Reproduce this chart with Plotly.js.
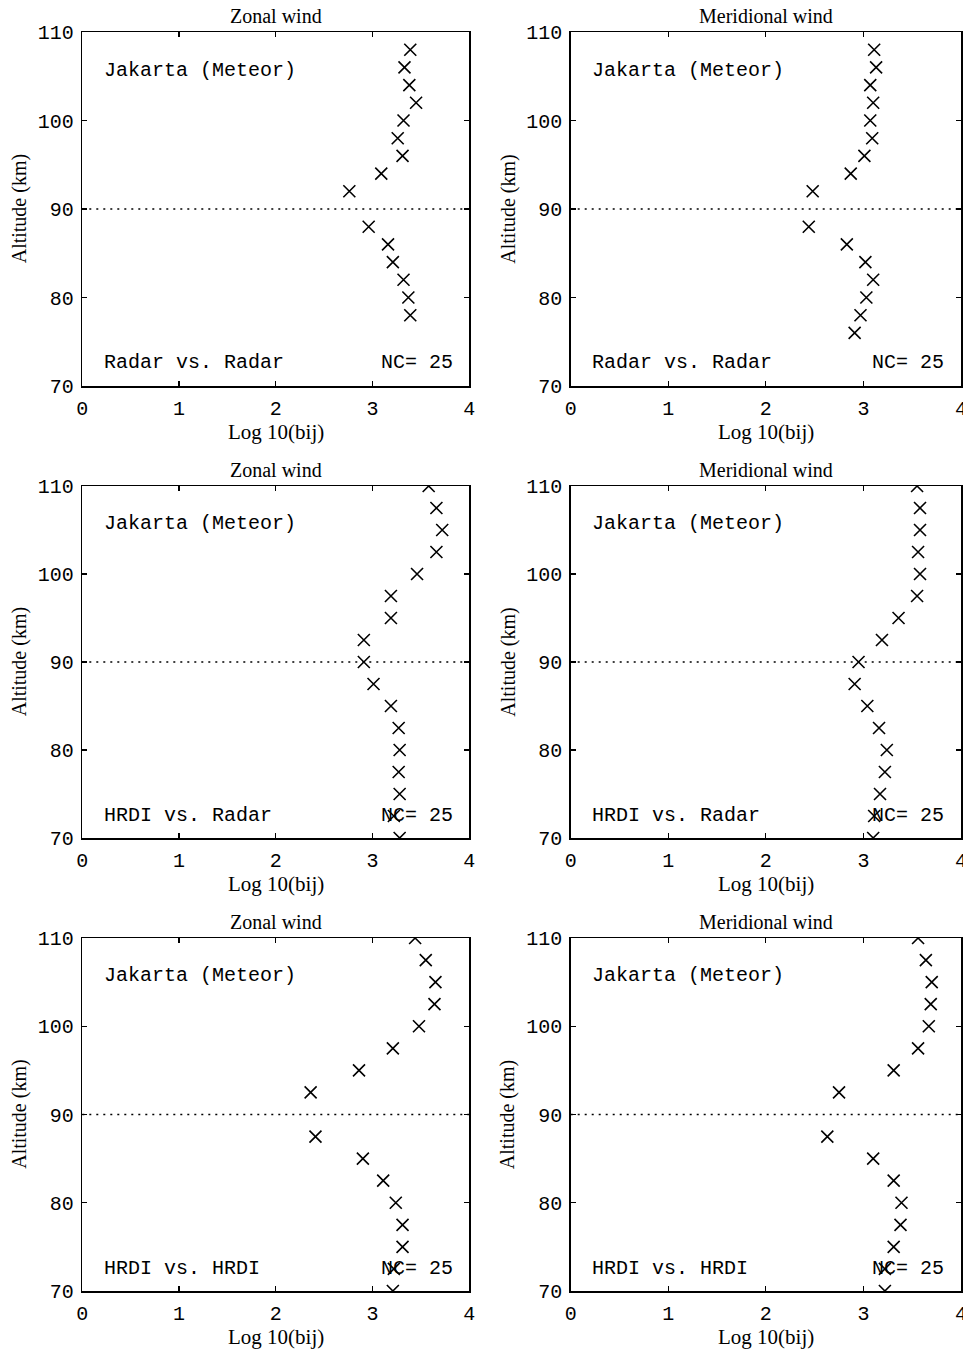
<!DOCTYPE html>
<html><head><meta charset="utf-8">
<script src="https://cdn.plot.ly/plotly-3.0.1.min.js"></script>
<style>html,body{margin:0;padding:0;background:#fff}</style>
</head><body>
<div id="chart" style="width:963px;height:1353px"></div>
<script>
// ---- data ----
const panelTitles = ["Zonal wind", "Meridional wind", "Zonal wind", "Meridional wind", "Zonal wind", "Meridional wind"];
const comparisonLabels = ["Radar vs. Radar", "Radar vs. Radar", "HRDI vs. Radar", "HRDI vs. Radar", "HRDI vs. HRDI", "HRDI vs. HRDI"];
const stationLabel = "Jakarta (Meteor)";
const ncLabel = "NC= 25";
const xTitle = "Log 10(bij)";
const yTitle = "Altitude (km)";
const xTickVals = [0, 1, 2, 3, 4];
const yTickVals = [70, 80, 90, 100, 110];
const refAltitude = 90;

const altZonalRR = [78, 80, 82, 84, 86, 88, 92, 94, 96, 98, 100, 102, 104, 106, 108];
const logZonalRR = [3.39, 3.37, 3.32, 3.21, 3.16, 2.96, 2.76, 3.09, 3.31, 3.26, 3.32, 3.45, 3.38, 3.33, 3.39];

const altMeridRR = [76, 78, 80, 82, 84, 86, 88, 92, 94, 96, 98, 100, 102, 104, 106, 108];
const logMeridRR = [2.91, 2.97, 3.03, 3.10, 3.02, 2.83, 2.44, 2.48, 2.87, 3.01, 3.09, 3.07, 3.10, 3.07, 3.13, 3.11];

const altZonalHR = [70, 72.5, 75, 77.5, 80, 82.5, 85, 87.5, 90, 92.5, 95, 97.5, 100, 102.5, 105, 107.5, 110];
const logZonalHR = [3.28, 3.22, 3.28, 3.27, 3.28, 3.27, 3.19, 3.01, 2.91, 2.91, 3.19, 3.19, 3.46, 3.66, 3.72, 3.66, 3.58];

const altMeridHR = [70, 72.5, 75, 77.5, 80, 82.5, 85, 87.5, 90, 92.5, 95, 97.5, 100, 102.5, 105, 107.5, 110];
const logMeridHR = [3.10, 3.11, 3.17, 3.22, 3.24, 3.16, 3.04, 2.91, 2.95, 3.19, 3.36, 3.55, 3.58, 3.56, 3.58, 3.58, 3.55];

const altZonalHH = [70, 72.5, 75, 77.5, 80, 82.5, 85, 87.5, 92.5, 95, 97.5, 100, 102.5, 105, 107.5, 110];
const logZonalHH = [3.21, 3.22, 3.31, 3.31, 3.24, 3.11, 2.90, 2.41, 2.36, 2.86, 3.21, 3.48, 3.64, 3.65, 3.55, 3.44];

const altMeridHH = [70, 72.5, 75, 77.5, 80, 82.5, 85, 87.5, 92.5, 95, 97.5, 100, 102.5, 105, 107.5, 110];
const logMeridHH = [3.22, 3.22, 3.31, 3.38, 3.39, 3.31, 3.10, 2.63, 2.75, 3.31, 3.56, 3.67, 3.69, 3.70, 3.64, 3.56];

const panelX = [logZonalRR, logMeridRR, logZonalHR, logMeridHR, logZonalHH, logMeridHH];
const panelY = [altZonalRR, altMeridRR, altZonalHR, altMeridHR, altZonalHH, altMeridHH];

// ---- layout geometry (pixels in a 963 x 1353 page) ----
const W = 963, H = 1353;
const colPx = [[82.3, 469.3], [570.7, 961]];
const rowPx = [[32, 386], [486, 838], [938, 1291]];

const serif = "Liberation Serif, Times New Roman, serif";
const mono = "Liberation Mono, DejaVu Sans Mono, monospace";

const traces = [];
const layout = {
  width: W, height: H,
  margin: {l: 0, r: 0, t: 0, b: 0, pad: 0},
  paper_bgcolor: "#fff", plot_bgcolor: "#fff",
  showlegend: false,
  annotations: [], shapes: []
};

for (let i = 0; i < 6; i++) {
  const r = Math.floor(i / 2), c = i % 2;
  const n = i + 1;
  const xa = "x" + (n === 1 ? "" : n), ya = "y" + (n === 1 ? "" : n);
  const xk = "xaxis" + (n === 1 ? "" : n), yk = "yaxis" + (n === 1 ? "" : n);
  traces.push({
    type: "scatter", mode: "markers",
    x: panelX[i], y: panelY[i], xaxis: xa, yaxis: ya,
    marker: {symbol: "x-thin-open", size: 12, color: "#000", line: {color: "#000", width: 1.6}},
    cliponaxis: true, hoverinfo: "x+y"
  });
  const common = {
    showline: true, linecolor: "#000", linewidth: 1.5, mirror: "ticks",
    ticks: "inside", ticklen: 5, tickwidth: 1.2, tickcolor: "#000",
    showgrid: false, zeroline: false, fixedrange: true, automargin: false,
    ticklabeloverflow: "allow",
    tickfont: {family: mono, size: 20, color: "#000"}
  };
  layout[xk] = Object.assign({}, common, {
    domain: [colPx[c][0] / W, colPx[c][1] / W],
    anchor: ya, range: [0, 4], tickvals: xTickVals,
    ticklabelstandoff: 3
  });
  layout[yk] = Object.assign({}, common, {
    domain: [1 - rowPx[r][1] / H, 1 - rowPx[r][0] / H],
    anchor: xa, range: [70, 110], tickvals: yTickVals,
    ticklabelstandoff: 3
  });
  layout.shapes.push({
    type: "line", xref: xa + " domain", yref: ya, x0: 0, x1: 1, y0: refAltitude, y1: refAltitude,
    line: {color: "#000", width: 1.5, dash: "2px,5px"}
  });
  // panel title
  layout.annotations.push({
    text: panelTitles[i], xref: xa + " domain", yref: ya + " domain", x: 0.5, y: 1,
    xanchor: "center", yanchor: "bottom", yshift: 3, showarrow: false,
    font: {family: serif, size: 20, color: "#000"}
  });
  // x axis title
  layout.annotations.push({
    text: xTitle, xref: xa + " domain", yref: ya + " domain", x: 0.5, y: 0,
    xanchor: "center", yanchor: "middle", yshift: -46, showarrow: false,
    font: {family: serif, size: 21, color: "#000"}
  });
  // y axis title
  layout.annotations.push({
    text: yTitle, xref: xa + " domain", yref: ya + " domain", x: 0, y: 0.5,
    xanchor: "center", yanchor: "middle", xshift: -63, textangle: -90, showarrow: false,
    font: {family: serif, size: 20, color: "#000"}
  });
  layout.annotations.push({
    text: stationLabel, xref: xa, yref: ya, x: 0.2, y: 105.7,
    xanchor: "left", yanchor: "middle", showarrow: false,
    font: {family: mono, size: 20, color: "#000"}
  });
  layout.annotations.push({
    text: comparisonLabels[i], xref: xa, yref: ya, x: 0.2, y: 72.6,
    xanchor: "left", yanchor: "middle", showarrow: false,
    font: {family: mono, size: 20, color: "#000"}
  });
  layout.annotations.push({
    text: ncLabel, xref: xa, yref: ya, x: 3.85, y: 72.6,
    xanchor: "right", yanchor: "middle", showarrow: false,
    font: {family: mono, size: 20, color: "#000"}
  });
}

Plotly.newPlot("chart", traces, layout, {staticPlot: true, displayModeBar: false});
</script>
</body></html>
